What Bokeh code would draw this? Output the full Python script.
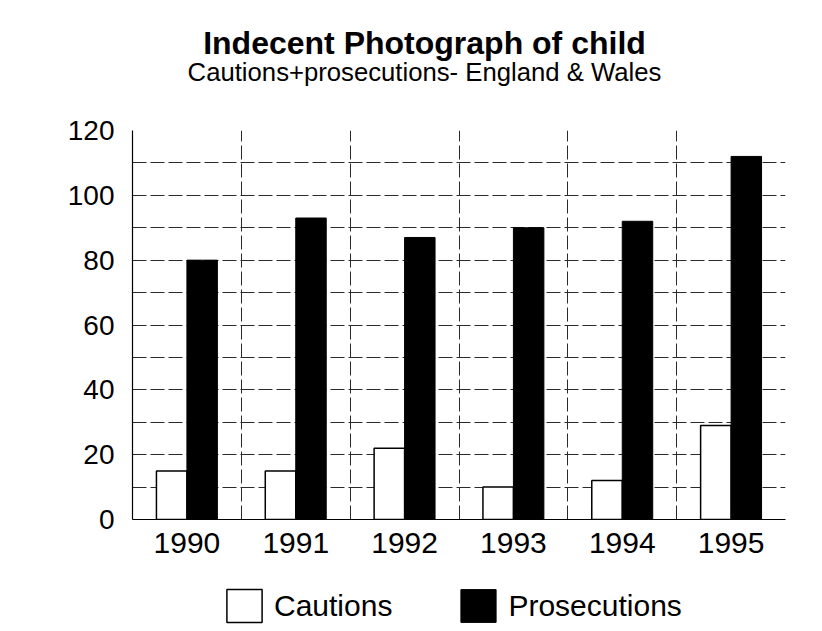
from bokeh.plotting import figure
from bokeh.layouts import column
from bokeh.models import (ColumnDataSource, Range1d, FixedTicker, Label, Legend,
                          LegendItem)
from bokeh.transform import dodge
from bokeh.embed import file_html
from bokeh.resources import INLINE

# ---- data ----
years = ["1990", "1991", "1992", "1993", "1994", "1995"]
cautions = [15, 15, 22, 10, 12, 29]
prosecutions = [80, 93, 87, 90, 92, 112]
y_ticks = [0, 20, 40, 60, 80, 100, 120]
title_text = "Indecent Photograph of child"
subtitle_text = "Cautions+prosecutions- England & Wales"
series_names = ["Cautions", "Prosecutions"]

FONT = "Liberation Sans"
W = 822
FRAME_LEFT = 132  # the column aligns every strip's frame with the chart's frame


def bare(fig):
    for ax in fig.axis:
        ax.visible = False
    for g in fig.grid:
        g.visible = False
    fig.outline_line_color = None
    fig.border_fill_color = "white"
    fig.background_fill_color = "white"
    return fig


idx = list(range(len(years)))
source = ColumnDataSource(dict(x=idx, year=years, cautions=cautions,
                               prosecutions=prosecutions))

# ---- title strip ----
pt = bare(figure(width=W, height=108, output_backend="svg", toolbar_location=None,
                 x_range=Range1d(0, 1), y_range=Range1d(0, 1),
                 min_border=0, min_border_left=0, min_border_right=0,
                 min_border_top=0, min_border_bottom=0))
pt.add_layout(Label(x=424 - FRAME_LEFT, y=66, x_units="screen", y_units="screen",
                    text=title_text, text_align="center", text_baseline="alphabetic",
                    text_font=FONT, text_font_size="32px", text_font_style="bold",
                    text_color="black"))
pt.add_layout(Label(x=424 - FRAME_LEFT, y=37, x_units="screen", y_units="screen",
                    text=subtitle_text, text_align="center", text_baseline="alphabetic",
                    text_font=FONT, text_font_size="25.7px", text_color="black"))

# ---- main chart ----
p = figure(width=W, height=462, output_backend="svg", toolbar_location=None,
           x_range=Range1d(-0.5, len(years) - 0.5), y_range=Range1d(0, 120),
           min_border_left=132, min_border_right=37, min_border_top=22,
           min_border_bottom=51)
p.outline_line_color = None
p.background_fill_color = "white"
p.border_fill_color = "white"

bw = 0.28
r_c = p.vbar(x=dodge("x", -bw / 2, range=p.x_range), top="cautions", width=bw,
             source=source, fill_color="white", line_color="black", line_width=1.5)
r_p = p.vbar(x=dodge("x", bw / 2, range=p.x_range), top="prosecutions", width=bw,
             source=source, fill_color="black", line_color="black", line_width=1)

p.xgrid.ticker = FixedTicker(ticks=[i - 0.5 for i in range(len(years) + 1)])
p.ygrid.ticker = FixedTicker(ticks=list(range(0, 121, 10)))
for g in (p.xgrid, p.ygrid):
    g.grid_line_color = "#2a2a2a"
    g.grid_line_width = 1
    g.grid_line_dash = "14 4"

p.xaxis.ticker = FixedTicker(ticks=idx)
p.xaxis.major_label_overrides = {i: y for i, y in zip(idx, years)}
p.yaxis.ticker = FixedTicker(ticks=y_ticks)
for ax in (p.xaxis[0], p.yaxis[0]):
    ax.major_tick_line_color = None
    ax.minor_tick_line_color = None
    ax.major_tick_out = 0
    ax.major_tick_in = 0
    ax.axis_line_color = "black"
    ax.axis_line_width = 1.2
    ax.major_label_text_font = FONT
    ax.major_label_text_color = "black"
p.xaxis.major_label_text_font_size = "30px"
p.yaxis.major_label_text_font_size = "28px"
p.xaxis.major_label_standoff = 13
p.yaxis.major_label_standoff = 18

# ---- legend strip (its bar renderers are hidden; only their legend shows) ----
pl = bare(figure(width=W, height=61, output_backend="svg", toolbar_location=None,
                 x_range=Range1d(-0.5, len(years) - 0.5), y_range=Range1d(-3, -2),
                 min_border=0, min_border_left=0, min_border_right=0,
                 min_border_top=0, min_border_bottom=0))
lc = pl.vbar(x="x", top="cautions", bottom=0, width=0.1, source=source,
             fill_color="white", line_color="black", line_width=1.5)
lp = pl.vbar(x="x", top="prosecutions", bottom=0, width=0.1, source=source,
             fill_color="black", line_color="black")
lc.visible = False
lp.visible = False
legend = Legend(items=[LegendItem(label=series_names[0], renderers=[lc]),
                       LegendItem(label=series_names[1], renderers=[lp])],
                orientation="horizontal", location=(222 - FRAME_LEFT, 5),
                glyph_width=44, glyph_height=41, label_standoff=8, spacing=64,
                label_text_font=FONT, label_text_font_size="30px",
                label_text_color="black", border_line_color=None,
                background_fill_alpha=0, padding=0, margin=0,
                click_policy="none")
pl.add_layout(legend, "center")

layout = column(pt, p, pl, spacing=0)
open("out.html", "w").write(file_html(layout, INLINE))
